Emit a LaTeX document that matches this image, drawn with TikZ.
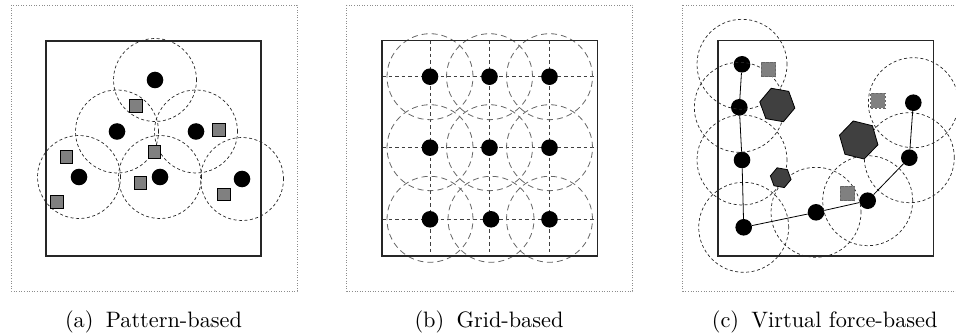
\documentclass[tikz,border=0pt]{standalone}
\usetikzlibrary{shapes.geometric}
\definecolor{sqgray}{HTML}{808080}
\definecolor{hexgray}{HTML}{404040}
\tikzset{
  frame/.style={draw=black!45, dotted, line width=0.6pt},
  field/.style={draw=black!85, line width=1.5pt},
  dot/.style={circle, fill=black, minimum size=16.6pt, inner sep=0pt},
  rng/.style={draw=black!85, dash pattern=on 3pt off 2.5pt, line width=0.7pt},
  rngb/.style={draw=black!60, dash pattern=on 6pt off 4pt, line width=0.8pt},
  gridl/.style={draw=black!75, dash pattern=on 3.5pt off 3pt, line width=0.8pt},
  sqa/.style={rectangle, draw=black, fill=sqgray, minimum size=12.5pt, inner sep=0pt, line width=0.8pt},
  sqc/.style={rectangle, draw=black!60, dash pattern=on 2.5pt off 1.5pt, fill=sqgray, minimum size=14.5pt, inner sep=0pt, line width=0.8pt},
  hexo/.style={regular polygon, regular polygon sides=6, draw=black, fill=hexgray, inner sep=0pt, line width=0.8pt},
  link/.style={draw=black, line width=0.8pt},
  captext/.style={inner sep=0pt, anchor=center}
}
\begin{document}
\begin{tikzpicture}[x=1pt,y=-1pt]
\useasboundingbox (0,0) rectangle (956,334);
% ---------- (a) ----------
\draw[frame] (11,5) rectangle (297,291);
\draw[field] (46,41) rectangle (261,256);
\node[dot] (a1) at (155,80) {};
\node[dot] (a2) at (117,131.5) {};
\node[dot] (a3) at (196,131.5) {};
\node[dot] (a4) at (79,177) {};
\node[dot] (a5) at (160,177) {};
\node[dot] (a6) at (242,179) {};
\foreach \n in {a1,a2,a3,a4,a5,a6} \draw[rng] (\n.center) circle[radius=41.5pt];
\node[sqa] (as1) at (135.7,106) {};
\node[sqa] (as2) at (219,130) {};
\node[sqa] (as3) at (66.3,156.7) {};
\node[sqa] (as4) at (154.3,151.7) {};
\node[sqa] (as5) at (140.3,182.7) {};
\node[sqa] (as6) at (56.7,201.7) {};
\node[sqa] (as7) at (224,194.3) {};
\node[captext] (capa) at (153.5,322) {\scalebox{2.23}{(a)\hspace{0.55em}Pattern-based}};
% ---------- (b) ----------
\draw[frame] (346.7,5) rectangle (632.7,291);
\coordinate (bl) at (382,40.7);
\coordinate (br) at (597.3,256);
\foreach \yy in {76.7,147.7,219.3} \draw[gridl] (382,\yy) -- (597.3,\yy);
\foreach \xx in {430,489.5,549.5} \draw[gridl] (\xx,40.7) -- (\xx,256);
\node[dot] (b1) at (430,76.7) {};
\node[dot] (b2) at (489.5,76.7) {};
\node[dot] (b3) at (549.5,76.7) {};
\node[dot] (b4) at (430,147.7) {};
\node[dot] (b5) at (489.5,147.7) {};
\node[dot] (b6) at (549.5,147.7) {};
\node[dot] (b7) at (430,219.3) {};
\node[dot] (b8) at (491,219.3) {};
\node[dot] (b9) at (549.5,219.3) {};
\foreach \n in {b1,b2,b3,b4,b5,b6,b7,b8,b9} \draw[rngb] (\n.center) circle[radius=43pt];
\draw[field] (bl) rectangle (br);
\node[captext] (capb) at (489,322) {\scalebox{2.23}{(b)\hspace{0.55em}Grid-based}};
% ---------- (c) ----------
\draw[frame] (682.7,5) rectangle (960,291);
\draw[field] (718,40.7) rectangle (933.3,256);
\node[dot] (c1) at (742,64.3) {};
\node[dot] (c2) at (739.3,107.3) {};
\node[dot] (c3) at (742,160) {};
\node[dot] (c4) at (743.7,227.3) {};
\node[dot] (c5) at (816,212.3) {};
\node[dot] (c6) at (867.7,200.7) {};
\node[dot] (c7) at (909.3,157.7) {};
\node[dot] (c8) at (913.3,102.7) {};
\foreach \n in {c1,c2,c3,c4,c5,c6,c7,c8} \draw[rng] (\n.center) circle[radius=45pt];
\draw[link] (c1) -- (c2) -- (c3) -- (c4) -- (c5) -- (c6) -- (c7) -- (c8);
\node[hexo, minimum size=35.6pt, shape border rotate=-10] (h1) at (777.3,105) {};
\node[hexo, minimum size=39.6pt, shape border rotate=-14] (h2) at (858.7,140) {};
\node[hexo, minimum size=21pt, shape border rotate=-10] (h3) at (780.7,177.7) {};
\node[sqc] (cs1) at (768.3,69.3) {};
\node[sqc] (cs2) at (878,100.7) {};
\node[sqc] (cs3) at (847.3,193.3) {};
\node[captext] (capc) at (824.7,322) {\scalebox{2.23}{(c)\hspace{0.55em}Virtual force-based}};
\end{tikzpicture}
\end{document}
